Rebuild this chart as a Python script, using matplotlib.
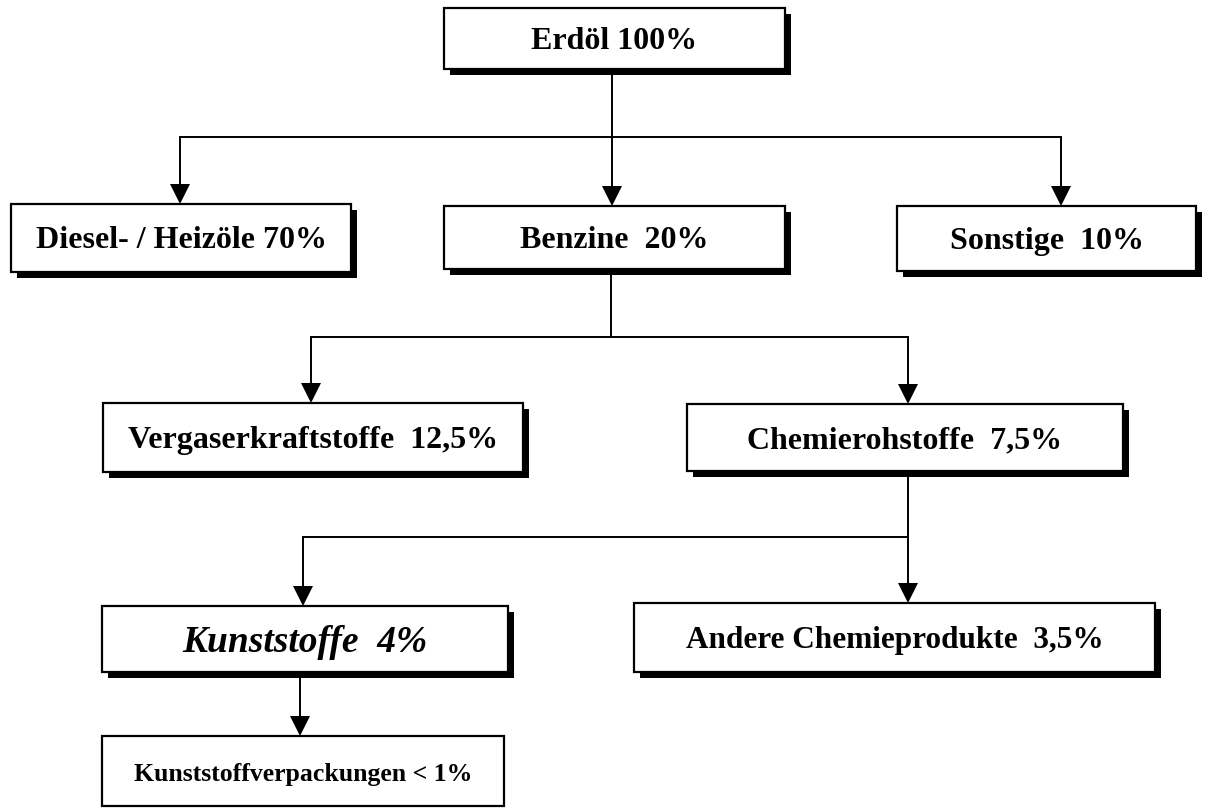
import matplotlib.pyplot as plt
from matplotlib.patches import Rectangle, Polygon

# chart content
labels = ['Erdöl 100%', 'Diesel- / Heizöle 70%', 'Benzine  20%', 'Sonstige  10%',
          'Vergaserkraftstoffe  12,5%', 'Chemierohstoffe  7,5%',
          'Kunststoffe  4%', 'Andere Chemieprodukte  3,5%',
          'Kunststoffverpackungen < 1%']
parents = [None, 0, 0, 0, 2, 2, 5, 5, 6]

# layout in pixels: left, top, right, bottom
boxes = [(444, 8, 785, 69), (11, 204, 351, 272), (444, 206, 785, 269),
         (897, 206, 1196, 271), (103, 403, 523, 472), (687, 404, 1123, 471),
         (102, 606, 508, 672), (634, 603, 1155, 672), (102, 736, 504, 806)]
arrow_x = [None, 180, 612, 1061, 311, 908, 303, 908, 300]
bus_y = {0: 137, 2: 337, 5: 537}
stem_x = {0: 612, 2: 611, 5: 908}
styles = {6: dict(fontsize=27, fontstyle='italic'),
          7: dict(fontsize=22.5),
          8: dict(fontsize=18.5)}
shadow = [True] * 8 + [False]

W, H = 1217, 808
fig = plt.figure(figsize=(W / 100, H / 100), dpi=100)
ax = fig.add_axes([0, 0, 1, 1])
ax.set_xlim(0, W)
ax.set_ylim(H, 0)
ax.axis('off')

LW = 1.4
HEAD_W, HEAD_L = 10, 20


def arrow_down(x, y0, y1):
    ax.plot([x, x], [y0, y1 - HEAD_L], color='black', lw=LW, solid_capstyle='butt')
    ax.add_patch(Polygon([(x - HEAD_W, y1 - HEAD_L), (x + HEAD_W, y1 - HEAD_L), (x, y1)],
                         closed=True, color='black', lw=0))


for i, (l, t, r, b) in enumerate(boxes):
    if shadow[i]:
        ax.add_patch(Rectangle((l + 6, t + 6), r - l, b - t, facecolor='black',
                               edgecolor='none', zorder=2))
    ax.add_patch(Rectangle((l, t), r - l, b - t, facecolor='white',
                           edgecolor='black', lw=1.6, zorder=3))
    kw = dict(fontsize=23, fontweight='bold')
    kw.update(styles.get(i, {}))
    ax.text((l + r) / 2, (t + b) / 2 + 3, labels[i], ha='center', va='center',
            family='Liberation Serif', zorder=4, **kw)

# connectors
for p in sorted(set(x for x in parents if x is not None)):
    kids = [k for k, q in enumerate(parents) if q == p]
    pb = boxes[p][3] + (6 if shadow[p] else 0)
    if len(kids) == 1:
        arrow_down(arrow_x[kids[0]], pb, boxes[kids[0]][1])
        continue
    by = bus_y[p]
    xs = [arrow_x[k] for k in kids]
    ax.plot([min(xs), max(xs)], [by, by], color='black', lw=LW)
    ax.plot([stem_x[p], stem_x[p]], [pb, by], color='black', lw=LW)
    for k in kids:
        arrow_down(arrow_x[k], by, boxes[k][1])

fig.savefig('out.png', dpi=100, facecolor='white')
